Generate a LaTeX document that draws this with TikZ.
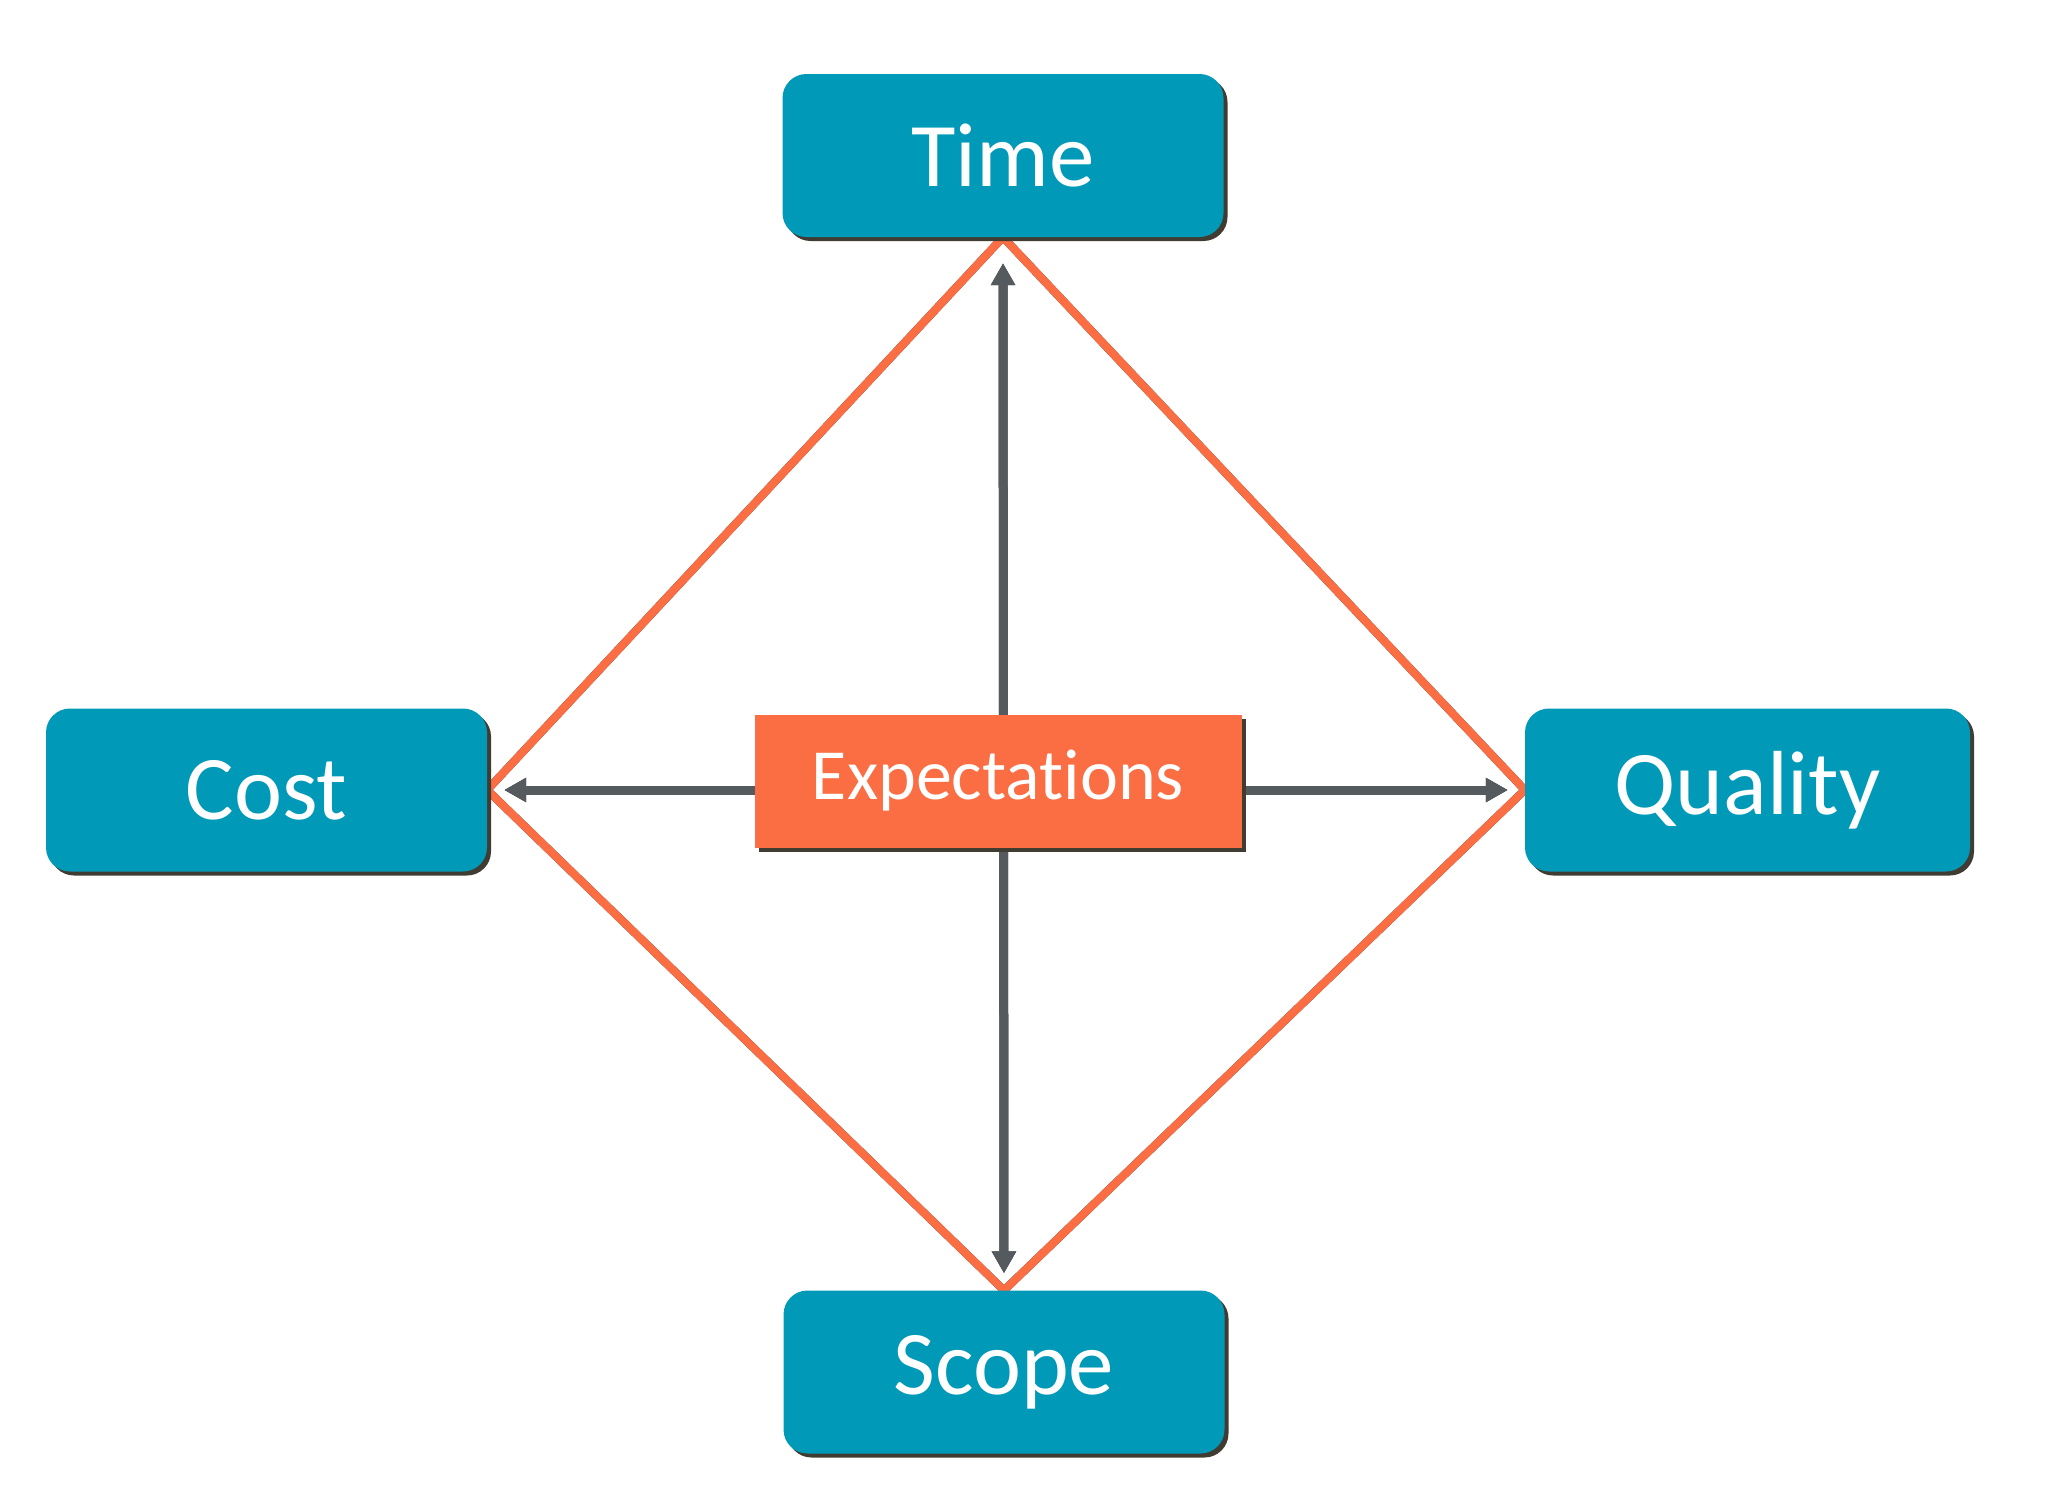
\documentclass[tikz,border=0pt]{standalone}
\usepackage{fontspec}
\setmainfont{Carlito}[Ligatures={NoCommon, NoRequired, NoContextual}]
\usetikzlibrary{arrows.meta, shadows, backgrounds}
\definecolor{tealbox}{RGB}{0, 153, 184}
\definecolor{orangeink}{RGB}{251, 109, 67}
\definecolor{grayink}{RGB}{85, 90, 94}
\definecolor{shadeink}{RGB}{64, 60, 50}

\begin{document}
\begin{tikzpicture}[x=1pt, y=-1pt,
  goalbox/.style={fill=tealbox, text=white, rounded corners=24pt,
    minimum width=441pt, minimum height=163pt, inner sep=0pt,
    font=\fontsize{91}{100}\selectfont,
    drop shadow={shadow xshift=4pt, shadow yshift=-4pt, fill=shadeink, opacity=1}},
  expbox/.style={fill=orangeink, text=white, minimum width=487pt,
    minimum height=133pt, inner sep=0pt, font=\fontsize{72}{80}\selectfont,
    drop shadow={shadow xshift=4pt, shadow yshift=-4pt, fill=shadeink, opacity=1}},
  rimline/.style={orangeink, line width=8pt, line join=miter},
  rimshade/.style={shadeink, line width=8pt, xshift=1.5pt, yshift=-1.5pt},
  linkarrow/.style={grayink, line width=9pt,
    {Triangle[width=23pt,length=22pt]}-{Triangle[width=23pt,length=22pt]}},
  linkshade/.style={linkarrow, shadeink, xshift=1.5pt, yshift=-1.5pt}]
  \useasboundingbox (0,0) rectangle (2048,1494);

  % the four constraints
  \node[goalbox] (time) at (1003,155.5) {Time};
  \node[goalbox] (cost) at (266.5,790) {Cost};
  \node[goalbox, minimum width=445pt] (quality) at (1747.5,790) {Quality};
  \node[goalbox] (scope) at (1004,1372) {Scope};

  \begin{scope}[on background layer]
    \fill[white] (0,0) rectangle (2048,1494);
    \draw[rimshade] (time.south) -- (quality.west) -- (scope.north) -- (cost.east) -- cycle;
    \draw[rimline] (time.south) -- (quality.west) -- (scope.north) -- (cost.east) -- cycle;
    \draw[linkshade, shorten <=26pt, shorten >=17pt] (time.south) -- (scope.north);
    \draw[linkarrow, shorten <=26pt, shorten >=17pt] (time.south) -- (scope.north);
    \draw[linkshade, shorten <=17pt, shorten >=17pt] (cost.east) -- (quality.west);
    \draw[linkarrow, shorten <=17pt, shorten >=17pt] (cost.east) -- (quality.west);
  \end{scope}

  \node[expbox] (expect) at (998,781) {Expectations};
\end{tikzpicture}
\end{document}
